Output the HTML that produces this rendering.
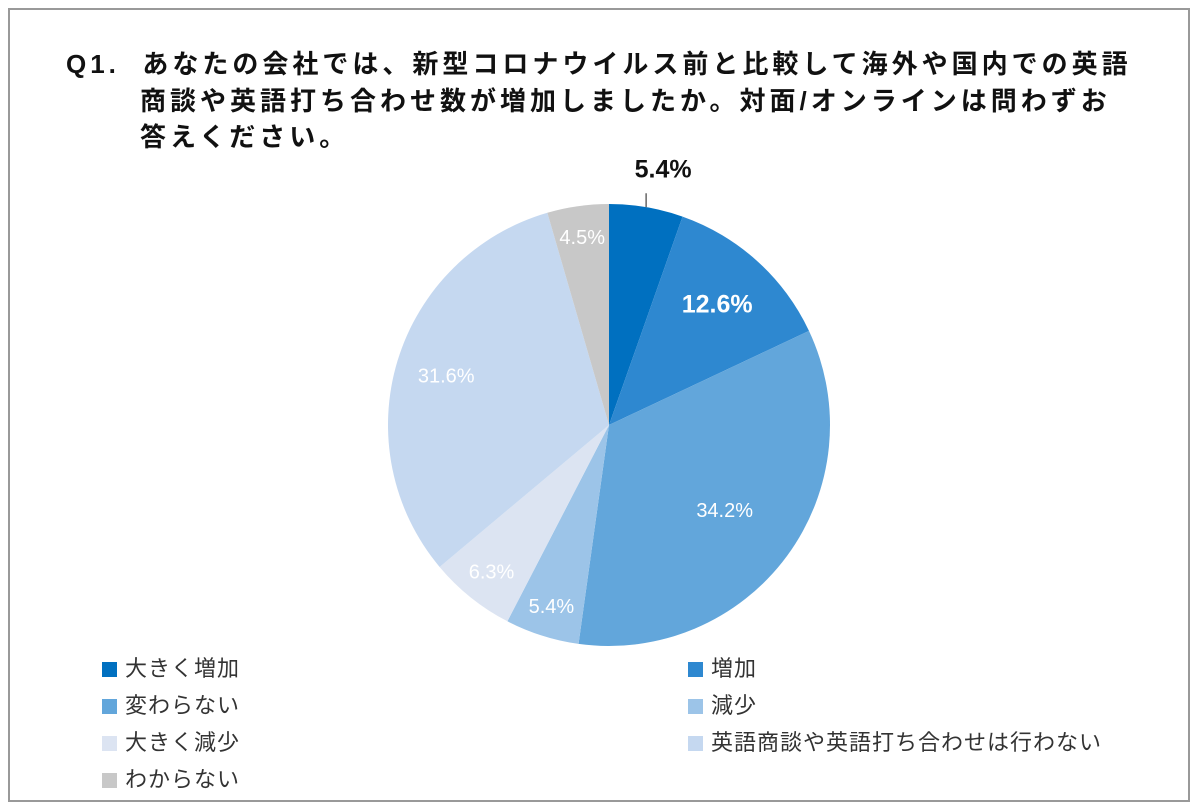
<!DOCTYPE html>
<html><head><meta charset="utf-8"><style>
body{margin:0;width:1200px;height:812px;background:#fff;overflow:hidden;font-family:"Liberation Sans","Noto Sans CJK JP",sans-serif;}
#frame{position:absolute;left:8px;top:8px;width:1182px;height:794px;border:2px solid #999;box-sizing:border-box;}
.t{position:absolute;font-weight:bold;font-size:26px;letter-spacing:4px;color:#111;white-space:nowrap;}
.lg{position:absolute;font-size:22px;letter-spacing:1px;color:#333;white-space:nowrap;}
.lg span{display:inline-block;width:15px;height:15px;margin-right:8px;vertical-align:-1px;}
</style></head><body>
<div id="frame"></div>
<div class="t" style="left:66px;top:44px">Q1.&nbsp; あなたの会社では、新型コロナウイルス前と比較して海外や国内での英語</div>
<div class="t" style="left:140px;top:81px">商談や英語打ち合わせ数が増加しましたか。対面/オンラインは問わずお</div>
<div class="t" style="left:140px;top:117px">答えください。</div>
<svg id="pie" width="1200" height="812" style="position:absolute;left:0;top:0"></svg>
<div class="lg" style="left:102px;top:651px"><span style="background:#0070C0"></span>大きく増加</div>
<div class="lg" style="left:102px;top:688px"><span style="background:#62A6DB"></span>変わらない</div>
<div class="lg" style="left:102px;top:725px"><span style="background:#DCE4F2"></span>大きく減少</div>
<div class="lg" style="left:102px;top:762px"><span style="background:#C8C8C8"></span>わからない</div>
<div class="lg" style="left:688px;top:651px"><span style="background:#2E88D0"></span>増加</div>
<div class="lg" style="left:688px;top:688px"><span style="background:#9CC4E8"></span>減少</div>
<div class="lg" style="left:688px;top:725px"><span style="background:#C5D8F0"></span>英語商談や英語打ち合わせは行わない</div>
<script>
const categories=["大きく増加","増加","変わらない","減少","大きく減少","英語商談や英語打ち合わせは行わない","わからない"];
const values=[5.4,12.6,34.2,5.4,6.3,31.6,4.5];
const labels=["5.4%","12.6%","34.2%","5.4%","6.3%","31.6%","4.5%"];
const colors=["#0070C0","#2E88D0","#62A6DB","#9CC4E8","#DCE4F2","#C5D8F0","#C8C8C8"];
const labelRadius=[1,0.73,0.65,0.86,0.85,0.77,0.86];
const svg=document.getElementById('pie');
const NS="http://www.w3.org/2000/svg";
const cx=609,cy=425,r=221;
const total=values.reduce((a,b)=>a+b,0);
function pt(frac,rad){const a=frac*2*Math.PI;return [cx+rad*Math.sin(a),cy-rad*Math.cos(a)];}
let acc=0;
values.forEach((v,i)=>{
  const s=acc/total,e=(acc+v)/total;acc+=v;
  const [x1,y1]=pt(s,r),[x2,y2]=pt(e,r);
  const p=document.createElementNS(NS,'path');
  p.setAttribute('d',`M${cx},${cy}L${x1},${y1}A${r},${r} 0 ${e-s>0.5?1:0} 1 ${x2},${y2}Z`);
  p.setAttribute('fill',colors[i]);
  
  
  svg.appendChild(p);
  const m=(s+e)/2;
  const t=document.createElementNS(NS,'text');
  t.setAttribute('text-anchor','middle');
  t.setAttribute('font-family','"Liberation Sans",sans-serif');
  if(i===0){
    const [lx1,ly1]=pt(m,r*0.995);
    const ln=document.createElementNS(NS,'line');
    ln.setAttribute('x1',lx1);ln.setAttribute('y1',ly1-1);ln.setAttribute('x2',lx1);ln.setAttribute('y2',ly1-15);
    ln.setAttribute('stroke','#666');ln.setAttribute('stroke-width','1.5');
    
    
    svg.appendChild(ln);
    t.setAttribute('x',lx1+17);t.setAttribute('y',ly1-31);
    t.setAttribute('font-size','25');t.setAttribute('font-weight','bold');t.setAttribute('fill','#111');
  }else{
    const [lx,ly]=pt(m,r*labelRadius[i]);
    t.setAttribute('x',lx);t.setAttribute('y',ly+7);
    t.setAttribute('font-size',i===1?'25':'20');
    if(i===1)t.setAttribute('font-weight','bold');
    t.setAttribute('fill','#fff');
  }
  t.textContent=labels[i];
  
  
  svg.appendChild(t);
});
</script>
</body></html>
